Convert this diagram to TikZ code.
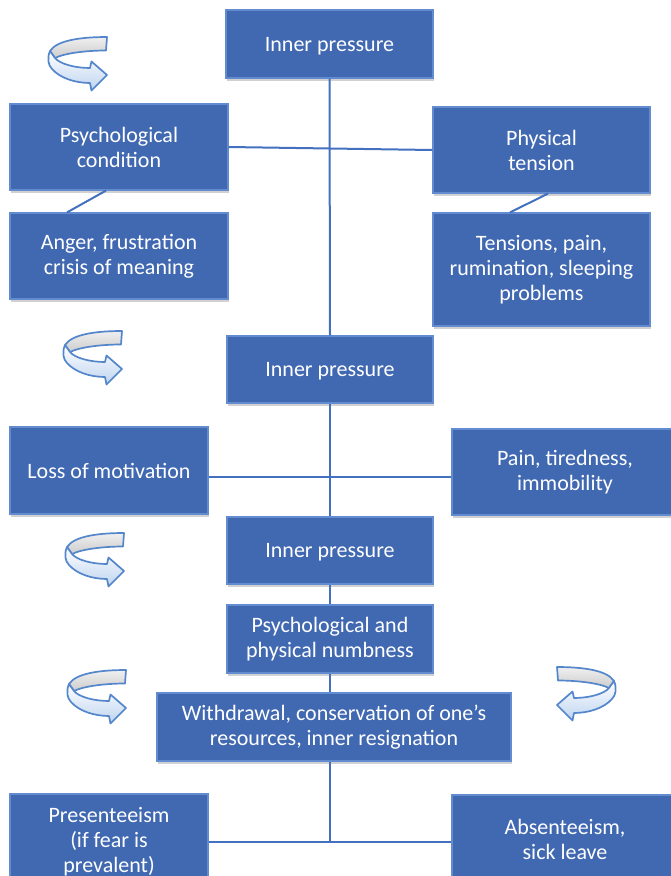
\documentclass[tikz,border=0pt]{standalone}
\usepackage{fontspec}
\setmainfont{Carlito}
\usetikzlibrary{calc,shadows}

\definecolor{boxfill}{RGB}{65,105,178}
\definecolor{boxedge}{RGB}{98,139,208}
\definecolor{linkcol}{RGB}{68,112,192}
\definecolor{iconline}{RGB}{84,134,204}
\definecolor{iconblue}{RGB}{190,212,240}

\tikzset{
  box/.style={rectangle, fill=boxfill, draw=boxedge, line width=1.2pt,
    text=white, align=center, inner sep=0pt,
    font=\fontsize{22}{25}\selectfont,
    drop shadow={shadow xshift=1pt, shadow yshift=-2.5pt, opacity=0.3, fill=black!60}},
  oneline/.style={text depth=0pt},
  link/.style={draw=linkcol, line width=2pt},
  loopicon/.pic={
    % inner (grey) side of the curled band
    \path[draw=iconline, line width=1.7pt, line join=round,
          top color=gray!12, bottom color=gray!40]
      (60,0) .. controls (35,0) and (10,3) .. (3,14) -- (8,21)
      .. controls (18,16) and (40,13.5) .. (59,13.5) -- cycle;
    % outer (front) side ending in the arrow head
    \path[draw=iconline, line width=1.7pt, line join=round,
          top color=white, bottom color=iconblue]
      (3,14) .. controls (0,21) and (1,28) .. (5,32)
      .. controls (13,41) and (28,46) .. (43,46) -- (44.5,53.5) -- (60,38)
      -- (44.5,24.5) -- (43,31) .. controls (28,31) and (13,27) .. (8,21) -- cycle;
  }
}

\begin{document}
\begin{tikzpicture}[x=1pt, y=-1pt]
  \useasboundingbox (0,0) rectangle (671,876);

  % boxes
  \node[box, oneline, minimum width=207, minimum height=68] (ip1) at (329.5,44) {Inner pressure};
  \node[box, minimum width=218, minimum height=86] (psych) at (119,147)   {Psychological\\condition};
  \node[box, minimum width=217, minimum height=86] (phys)  at (541.5,150) {Physical\\tension};
  \node[box, minimum width=218, minimum height=86] (anger) at (119,256)   {Anger, frustration\\crisis of meaning};
  \node[box, minimum width=217, minimum height=113] (tens) at (541.5,269.5) {Tensions, pain,\\rumination, sleeping\\problems};
  \node[box, oneline, minimum width=206, minimum height=67] (ip2) at (330,369.5) {Inner pressure};
  \node[box, oneline, minimum width=198, minimum height=87] (loss) at (109,470.5) {Loss of motivation};
  \node[box, minimum width=226, minimum height=86] (pain)  at (565,472)   {Pain, tiredness,\\immobility};
  \node[box, oneline, minimum width=206, minimum height=67] (ip3) at (330,550.5) {Inner pressure};
  \node[box, minimum width=206, minimum height=68] (numb)  at (330,639)   {Psychological and\\physical numbness};
  \node[box, minimum width=354, minimum height=68] (withd) at (334,727)   {Withdrawal, conservation of one’s\\resources, inner resignation};
  \node[box, minimum width=198, minimum height=96] (pres)  at (109,842)   {Presenteeism\\(if fear is\\prevalent)};
  \node[box, minimum width=226, minimum height=88] (abs)   at (565,839)   {Absenteeism,\\sick leave};

  % connectors
  \path[link] (ip1.south) -- (ip2.north);
  \path[link] (psych.east) -- (phys.west);
  \path[link] ($(psych.south)+(-13,0)$) -- ($(anger.north)+(-52,0)$);
  \path[link] ($(phys.south)+(6.5,0)$) -- ($(tens.north)+(-31.5,0)$);
  \path[link] (ip2.south) -- (ip3.north);
  \path[link] ([yshift=-6pt]loss.east) -- ([yshift=-6pt]loss.east -| pain.west);
  \path[link] (ip3.south) -- (numb.north);
  \path[link] (numb.south) -- (numb.south |- withd.north);
  \path[link] (withd.south -| numb.south) -- (pres.east -| numb.south);
  \path[link] (pres.east) -- (pres.east -| abs.west);

  % curled arrow icons
  \pic at (47,37)  {loopicon};
  \pic at (62,331) {loopicon};
  \pic at (64,533) {loopicon};
  \pic at (66,670) {loopicon};
  \pic[xscale=-1] at (617,667) {loopicon};
\end{tikzpicture}
\end{document}
